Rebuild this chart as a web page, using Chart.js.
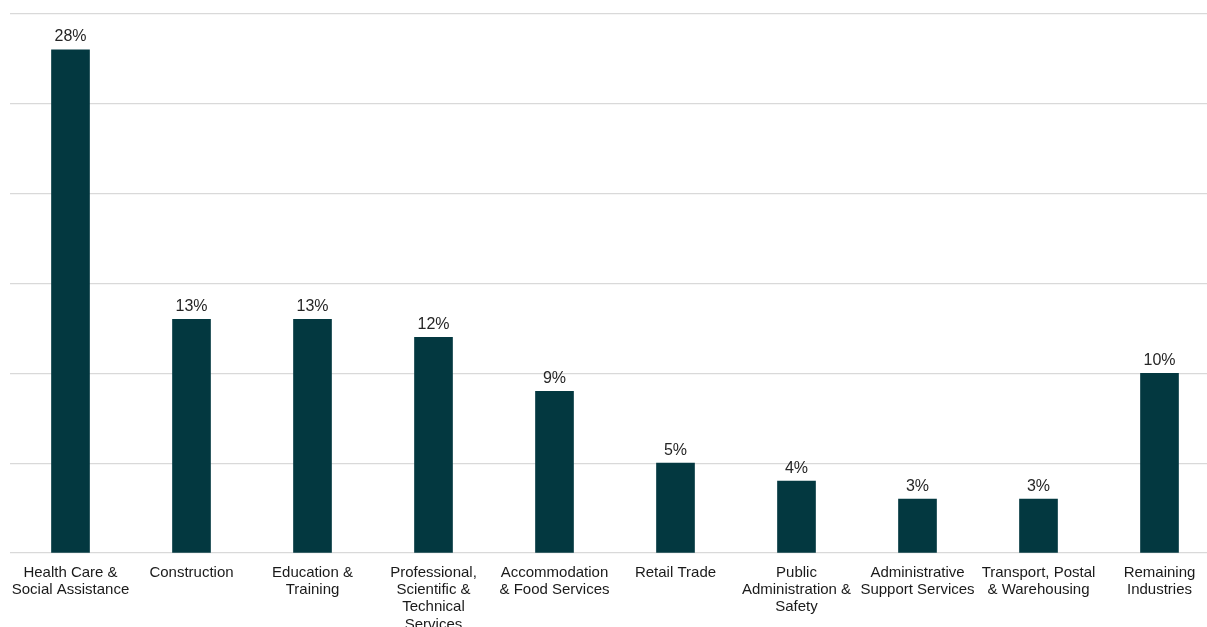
<!DOCTYPE html>
<html lang="en">
<head>
  <meta charset="UTF-8">
  <title>Industry share</title>
  <script src="https://cdn.jsdelivr.net/npm/chart.js"></script>
  <style>
    html, body {
      margin: 0;
      padding: 0;
      background: white;
      overflow: hidden;
    }
    #wrap {
      width: 1220px;
      height: 640px;
    }
  </style>
</head>
<body>

<div id="wrap"><canvas id="industryChart"></canvas></div>

<script>
  // category labels (multi-line as in the reference)
  const industries = [
    ["Health Care &", "Social Assistance"],
    ["Construction"],
    ["Education &", "Training"],
    ["Professional,", "Scientific &", "Technical", "Services"],
    ["Accommodation", "& Food Services"],
    ["Retail Trade"],
    ["Public", "Administration &", "Safety"],
    ["Administrative", "Support Services"],
    ["Transport, Postal", "& Warehousing"],
    ["Remaining", "Industries"]
  ];
  const shares = [28, 13, 13, 12, 9, 5, 4, 3, 3, 10];
  const yMax = 30;
  const yStep = 5;

  const barColor = "#033840";
  const gridColor = "#d9d9d9";

  // value labels on top of each bar
  const valueLabels = {
    id: "valueLabels",
    afterDatasetsDraw(chart) {
      const ctx = chart.ctx;
      const meta = chart.getDatasetMeta(0);
      ctx.save();
      ctx.font = "16px 'Liberation Sans', Arial, sans-serif";
      ctx.fillStyle = "#262626";
      ctx.textAlign = "center";
      ctx.textBaseline = "bottom";
      meta.data.forEach(function (bar, i) {
        ctx.fillText(shares[i] + "%", bar.x, bar.y - 5);
      });
      ctx.restore();
    }
  };

  const ctx = document.getElementById("industryChart").getContext("2d");
  new Chart(ctx, {
    type: "bar",
    data: {
      labels: industries,
      datasets: [{
        data: shares,
        backgroundColor: barColor,
        barThickness: 38
      }]
    },
    options: {
      responsive: true,
      maintainAspectRatio: false,
      animation: false,
      layout: { padding: { top: 14, left: 10, right: 0, bottom: 0 } },
      plugins: {
        legend: { display: false },
        tooltip: { enabled: false }
      },
      scales: {
        x: {
          grid: { display: false },
          border: { display: false },
          ticks: {
            color: "#1a1a1a",
            font: { family: "'Liberation Sans', Arial, sans-serif", size: 15, lineHeight: 1.15 },
            maxRotation: 0,
            autoSkip: false,
            padding: 3
          },
          afterFit(scale) { scale.height = 87; }
        },
        y: {
          min: 0,
          max: yMax,
          ticks: { display: false, stepSize: yStep },
          grid: { color: gridColor, lineWidth: 1.3, drawTicks: false },
          border: { display: false },
          afterFit(scale) { scale.width = 0; }
        }
      }
    },
    plugins: [valueLabels]
  });
</script>

</body>
</html>
